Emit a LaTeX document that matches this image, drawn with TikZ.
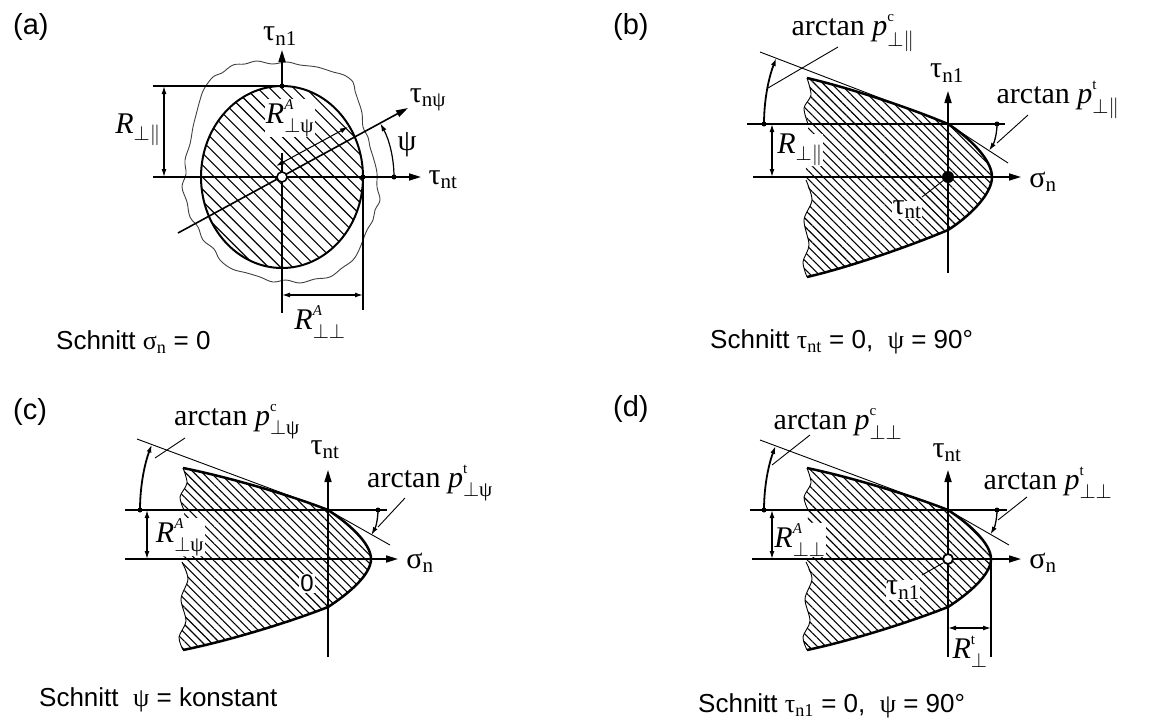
\documentclass[tikz,border=0pt]{standalone}
\usepackage{amsmath}
\usepackage{fontspec}
\setmainfont{Liberation Serif}
\setsansfont{Liberation Sans}
\usetikzlibrary{arrows.meta, patterns.meta}
\newcommand{\stackidx}[2]{^{\raisebox{5pt}{$\scriptscriptstyle #1$}}_{\raisebox{-3pt}{$\scriptstyle #2$}}}

\begin{document}
\begin{tikzpicture}[
    x=1pt, y=-1pt,
    axis/.style={line width=1.6pt, -{Triangle[length=12pt, width=7pt]}},
    body/.style={line width=2.5pt, line join=round},
    strip/.style={line width=1.5pt},
    thinline/.style={line width=0.9pt},
    dim/.style={line width=1.3pt, {Latex[length=8pt, width=5pt]}-{Latex[length=8pt, width=5pt]}},
    anglearc/.style={line width=1.8pt, -{Latex[length=8pt, width=5pt]}},
    hatch/.style={pattern={Lines[angle=-45, distance=#1, line width=1.1pt]}},
    hatch/.default=6pt,
    lbl/.style={font=\fontsize{30}{32}\selectfont, inner sep=1pt},
    cutlbl/.style={lbl, fill=white, inner sep=0.5pt},
    panel/.style={anchor=west, font=\sffamily\fontsize{29}{32}\selectfont, inner sep=0pt},
    caption/.style={anchor=west, font=\sffamily\fontsize{26}{30}\selectfont, inner sep=0pt}
]
\useasboundingbox (0,0) rectangle (1169,720);

% (a) Schnitt sigma_n = 0
\begin{scope}[shift={(282,177)}]
  \node[panel] (pa) at (-269,-150) {(a)};
  \draw[thinline, black!75] plot[smooth cycle, tension=0.6] coordinates {(-25,-116) (-10,-113) (5,-115) (18,-112) (35,-110) (51,-105) (62,-102) (71,-95) (73,-86) (76,-77) (80,-64) (81,-50) (86,-40) (88,-30) (92,-17) (95,-4) (95,10) (98,23) (93,33) (91,43) (85,53) (81,63) (77,73) (71,83) (60,91) (48,100) (33,102) (18,106) (4,103) (-9,105) (-22,100) (-35,96) (-50,92) (-62,83) (-68,72) (-79,63) (-84,50) (-92,40) (-95,25) (-100,10) (-96,-3) (-97,-17) (-92,-33) (-89,-50) (-86,-62) (-82,-77) (-78,-88) (-69,-100) (-60,-104) (-49,-112) (-37,-113)};
  \draw[body, line width=2pt, hatch=8.5pt] (0,0) ellipse [x radius=81, y radius=91];
  \node[cutlbl] (Rpsa) at (8,-59) {$\mathit{R}\stackidx{\mathit{A}}{\perp\text{ψ}}$};
  \draw[strip] (-129,-91) -- (0,-91);
  \draw[axis] (-129,0) -- (139,0);
  \draw[axis] (0,-91) -- (0,-127);
  \draw[strip] (0,-24) -- (0,136);
  \draw[axis] (-104,56) -- (126,-69);
  \draw[strip] (81,0) -- (81,133);
  \draw[dim] (-118,-91) -- (-118,0);
  \draw[dim] (0,118) -- (81,118);
  \draw[dim, line width=1pt] (-6,-11) -- (66,-50);
  \draw[anglearc, line width=1.2pt] (112,0) arc[start angle=0, end angle=-28.6, radius=112];
  \fill (0,-91) circle[radius=2.5] (81,0) circle[radius=2.5] (112,0) circle[radius=2.5];
  \draw[line width=1.5pt, fill=white] (0,0) circle[radius=5];
  \node[lbl] (tn1a) at (-2,-141) {τ$_\text{n1}$};
  \node[lbl] (tnpa) at (146,-77) {τ$_\text{nψ}$};
  \node[lbl] (psia) at (125,-32) {ψ};
  \node[lbl] (tnta) at (161,3) {τ$_\text{nt}$};
  \node[lbl] (Rppa) at (-144,-47) {$\mathit{R}_{\perp\parallel}$};
  \node[lbl] (Rtta) at (38,145) {$\mathit{R}\stackidx{\mathit{A}}{\perp\perp}$};
  \node[caption] (ca) at (-226,165) {Schnitt {\rmfamily σ$_\text{n}$} = 0};
\end{scope}

% (b) Schnitt tau_nt = 0
\begin{scope}[shift={(948,177)}]
  \node[panel] (pb) at (-335,-150) {(b)};
  \path[hatch] (-141,-99) .. controls (-98,-89) and (-38,-69) .. (0,-53)
    .. controls (22,-39) and (44,-17) .. (44,0)
    .. controls (44,17) and (22,39) .. (0,53)
    .. controls (-38,69) and (-98,90) .. (-141,100)
    -- plot[smooth] coordinates {(-141,100) (-145,85) (-139,68) (-144,43) (-136,23) (-142,3) (-141,-27) (-140,-53) (-144,-69) (-137,-82) (-141,-99)} -- cycle;
  \node[cutlbl] (Rb) at (-148,-27) {$\mathit{R}_{\perp\parallel}$};
  \node[cutlbl] (tntb) at (-41,33) {τ$_\text{nt}$};
  \draw[body] (-141,-99) .. controls (-98,-89) and (-38,-69) .. (0,-53)
    .. controls (22,-39) and (44,-17) .. (44,0)
    .. controls (44,17) and (22,39) .. (0,53)
    .. controls (-38,69) and (-98,90) .. (-141,100);
  \draw[thinline] plot[smooth] coordinates {(-140,-53) (-144,-69) (-137,-82) (-141,-99)};
  \draw[thinline] plot[smooth] coordinates {(-141,100) (-145,85) (-139,68) (-144,43) (-136,23) (-142,3)};
  \draw[strip] (-201,-53) -- (57,-53);
  \draw[axis] (-195,0) -- (73,0);
  \draw[axis] (0,96) -- (0,-86);
  \draw[thinline] (-188,-125) -- (0,-53) -- (60,-14);
  \draw[anglearc] (-184,-53) arc[start angle=180, end angle=201, radius=184];
  \draw[anglearc, line width=1.3pt] (49,-53) arc[start angle=0, end angle=33, radius=49];
  \draw[dim] (-176,-53) -- (-176,0);
  \fill (-184,-53) circle[radius=2.5] (49,-53) circle[radius=2.5] (0,0) circle[radius=6];
  \node[lbl] (pcb) at (-95,-144) {arctan $\mathit{p}\stackidx{\text{c}}{\perp\parallel}$};
  \node[lbl] (tn1b) at (-1,-104) {τ$_\text{n1}$};
  \node[lbl] (ptb) at (110,-77) {arctan $\mathit{p}\stackidx{\text{t}}{\perp\parallel}$};
  \node[lbl] (snb) at (95,5) {σ$_\text{n}$};
  \draw[thinline] (-110,-130) -- (-180,-89);
  \draw[thinline] (80,-62) -- (49,-34);
  \draw[thinline] (-26,20) -- (-4,3);
  \node[caption] (cb) at (-238,165) {Schnitt {\rmfamily τ$_\text{nt}$} = 0,~~{\rmfamily ψ} = 90°};
\end{scope}

% (c) Schnitt psi = konstant
\begin{scope}[shift={(328,559)}]
  \node[panel] (pc) at (-315,-147) {(c)};
  \path[hatch] (-145,-91) .. controls (-100,-82) and (-38,-64) .. (0,-49)
    .. controls (20,-36) and (43,-16) .. (43,0)
    .. controls (43,16) and (20,35) .. (0,48)
    .. controls (-38,63) and (-100,82) .. (-145,91)
    -- plot[smooth] coordinates {(-145,91) (-149,78) (-142,62) (-147,40) (-140,20) (-146,3) (-145,-25) (-144,-49) (-148,-62) (-141,-76) (-145,-91)} -- cycle;
  \node[cutlbl] (Rc) at (-148,-22) {$\mathit{R}\stackidx{\mathit{A}}{\perp\text{ψ}}$};
  \node[fill=white, inner sep=1pt, font=\sffamily\fontsize{24}{28}\selectfont] (zc) at (-21,24) {0};
  \draw[body] (-145,-91) .. controls (-100,-82) and (-38,-64) .. (0,-49)
    .. controls (20,-36) and (43,-16) .. (43,0)
    .. controls (43,16) and (20,35) .. (0,48)
    .. controls (-38,63) and (-100,82) .. (-145,91);
  \draw[thinline] plot[smooth] coordinates {(-144,-49) (-148,-62) (-141,-76) (-145,-91)};
  \draw[thinline] plot[smooth] coordinates {(-145,91) (-149,78) (-142,62) (-147,40) (-140,20) (-146,3)};
  \draw[strip] (-203,-49) -- (59,-49);
  \draw[axis] (-203,0) -- (70,0);
  \draw[axis] (0,98) -- (0,-89);
  \draw[thinline] (-191,-120) -- (0,-49) -- (62,-14);
  \draw[anglearc] (-188,-49) arc[start angle=180, end angle=200.4, radius=188];
  \draw[anglearc, line width=1.3pt] (50,-49) arc[start angle=0, end angle=30, radius=50];
  \draw[dim] (-181,-49) -- (-181,0);
  \fill (-188,-49) circle[radius=2.5] (50,-49) circle[radius=2.5];
  \node[lbl] (pcc) at (-91,-137) {arctan $\mathit{p}\stackidx{\text{c}}{\perp\text{ψ}}$};
  \node[lbl] (tntc) at (-3,-109) {τ$_\text{nt}$};
  \node[lbl] (ptc) at (102,-76) {arctan $\mathit{p}\stackidx{\text{t}}{\perp\text{ψ}}$};
  \node[lbl] (snc) at (92,4) {σ$_\text{n}$};
  \draw[thinline] (-143,-121) -- (-173,-101);
  \draw[thinline] (77,-61) -- (50,-32);
  \node[caption] (cc) at (-289,141) {Schnitt~~{\rmfamily ψ} = konstant};
\end{scope}

% (d) Schnitt tau_n1 = 0
\begin{scope}[shift={(948,559)}]
  \node[panel] (pd) at (-335,-150) {(d)};
  \path[hatch] (-141,-91) .. controls (-98,-82) and (-38,-64) .. (0,-49)
    .. controls (20,-36) and (43,-16) .. (43,0)
    .. controls (43,16) and (20,35) .. (0,48)
    .. controls (-38,63) and (-98,82) .. (-141,91)
    -- plot[smooth] coordinates {(-141,91) (-145,78) (-138,62) (-143,40) (-136,20) (-142,3) (-141,-25) (-140,-49) (-144,-62) (-137,-76) (-141,-91)} -- cycle;
  \node[cutlbl] (Rd) at (-148,-19) {$\mathit{R}\stackidx{\mathit{A}}{\perp\perp}$};
  \node[cutlbl] (tn1d) at (-45,31) {τ$_\text{n1}$};
  \draw[body] (-141,-91) .. controls (-98,-82) and (-38,-64) .. (0,-49)
    .. controls (20,-36) and (43,-16) .. (43,0)
    .. controls (43,16) and (20,35) .. (0,48)
    .. controls (-38,63) and (-98,82) .. (-141,91);
  \draw[thinline] plot[smooth] coordinates {(-140,-49) (-144,-62) (-137,-76) (-141,-91)};
  \draw[thinline] plot[smooth] coordinates {(-141,91) (-145,78) (-138,62) (-143,40) (-136,20) (-142,3)};
  \draw[strip] (-198,-49) -- (59,-49);
  \draw[axis] (-196,0) -- (73,0);
  \draw[axis] (0,98) -- (0,-89);
  \draw[thinline] (-188,-119) -- (0,-49) -- (61,-14);
  \draw[anglearc] (-184,-49) arc[start angle=180, end angle=200.4, radius=184];
  \draw[anglearc, line width=1.3pt] (49,-49) arc[start angle=0, end angle=30, radius=49];
  \draw[dim] (-176,-49) -- (-176,0);
  \draw[strip] (43,0) -- (43,98);
  \draw[dim] (0,69) -- (43,69);
  \fill (-184,-49) circle[radius=2.5] (49,-49) circle[radius=2.5];
  \draw[line width=1.8pt, fill=white] (0,0) circle[radius=5];
  \node[lbl] (pcd) at (-110,-135) {arctan $\mathit{p}\stackidx{\text{c}}{\perp\perp}$};
  \node[lbl] (tntd) at (-1,-106) {τ$_\text{nt}$};
  \node[lbl] (ptd) at (100,-76) {arctan $\mathit{p}\stackidx{\text{t}}{\perp\perp}$};
  \node[lbl] (snd) at (95,4) {σ$_\text{n}$};
  \node[lbl] (Rtd) at (22,93) {$\mathit{R}\stackidx{\text{t}}{\perp}$};
  \draw[thinline] (-138,-124) -- (-176,-94);
  \draw[thinline] (79,-62) -- (50,-39);
  \draw[thinline] (-26,16) -- (-5,4);
  \node[caption] (cd) at (-250,147) {Schnitt {\rmfamily τ$_\text{n1}$} = 0,~~{\rmfamily ψ} = 90°};
\end{scope}

\end{tikzpicture}
\end{document}
